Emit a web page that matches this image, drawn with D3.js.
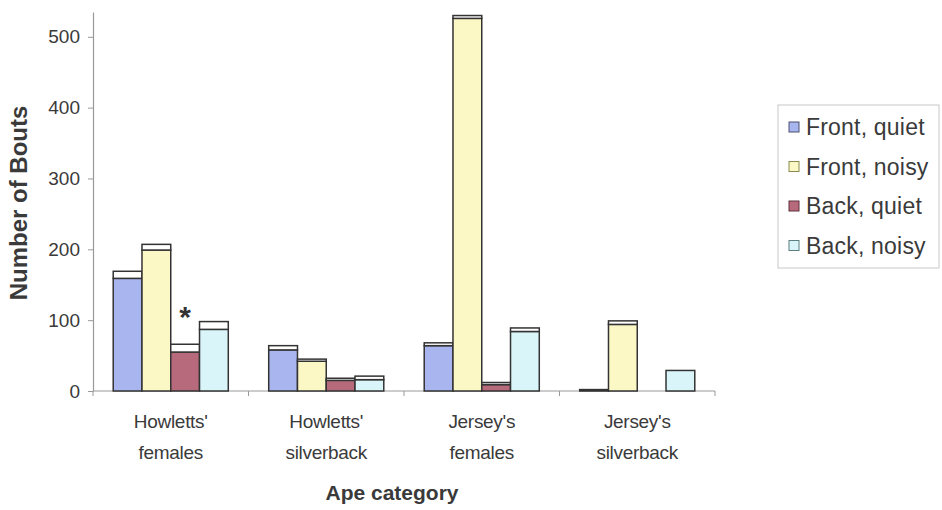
<!DOCTYPE html>
<html><head><meta charset="utf-8">
<script src="https://cdn.jsdelivr.net/npm/d3@7"></script>
<style>body{margin:0;background:#fff;} svg{display:block;font-family:Arial,"Liberation Sans",sans-serif;}</style>
</head><body><svg id="c" width="942" height="510"></svg>
<script>
// ---- data ----
const categories = ["Howletts' females", "Howletts' silverback", "Jersey's females", "Jersey's silverback"];
const categoryLines = [["Howletts'", "females"], ["Howletts'", "silverback"], ["Jersey's", "females"], ["Jersey's", "silverback"]];
const seriesNames = ["Front, quiet", "Front, noisy", "Back, quiet", "Back, noisy"];
// coloured (lower) part of each bar
const frontQuietBase = [159, 58, 64, 1];
const frontNoisyBase = [199, 42, 526, 94];
const backQuietBase  = [55, 15, 9, 0];
const backNoisyBase  = [87, 16, 84, 29];
// full bar height (white upper part on top)
const frontQuietTotal = [169, 64, 68, 2];
const frontNoisyTotal = [207, 45, 530, 99];
const backQuietTotal  = [66, 18, 12, 0];
const backNoisyTotal  = [98, 21, 89, 29];
const yTicks = [0, 100, 200, 300, 400, 500];
const annotations = [{ category: "Howletts' females", series: "Back, quiet", text: "*" }];

const baseValues = [frontQuietBase, frontNoisyBase, backQuietBase, backNoisyBase];
const totalValues = [frontQuietTotal, frontNoisyTotal, backQuietTotal, backNoisyTotal];
const colors = ["#a9b5ee", "#fbf8c6", "#b66a7b", "#d9f5fa"];
const legendStroke = ["#4a5070", "#8a8a50", "#603040", "#5a8080"];

// ---- layout ----
const svg = d3.select("#c");
const left = 93, right = 715, bottom = 391;
const y = d3.scaleLinear().domain([0, 535]).range([bottom, 12]);
const x0 = d3.scaleBand().domain(categories).range([left, right]).paddingInner(0.26).paddingOuter(0.13);
const x1 = d3.scaleBand().domain(seriesNames).range([0, x0.bandwidth()]);
const textCol = "#3a3a3a";

// y axis
const yAxis = svg.append("g").attr("transform", `translate(${left},0)`)
  .call(d3.axisLeft(y).tickValues(yTicks).tickSize(5).tickPadding(8).tickSizeOuter(0));
yAxis.select(".domain").attr("stroke", "#999").attr("stroke-width", 1.2);
yAxis.selectAll(".tick line").attr("stroke", "#999");
yAxis.selectAll(".tick text").attr("fill", textCol).style("font-size", "19px").style("font-family", "Arial, 'Liberation Sans', sans-serif");

// x axis line + category boundary ticks
const xBounds = d3.range(categories.length + 1).map(i => left + i * x0.step());
svg.append("line").attr("x1", left).attr("x2", right).attr("y1", bottom).attr("y2", bottom)
  .attr("stroke", "#999").attr("stroke-width", 1.2);
svg.selectAll(".xt").data(xBounds).join("line")
  .attr("x1", d => d).attr("x2", d => d).attr("y1", bottom).attr("y2", bottom + 5)
  .attr("stroke", "#999");

// bars
const groups = svg.selectAll(".grp").data(categories).join("g")
  .attr("transform", d => `translate(${x0(d)},0)`);
seriesNames.forEach((s, si) => {
  categories.forEach((c, ci) => {
    const b = baseValues[si][ci], t = totalValues[si][ci];
    if (t <= 0) return;
    const g = groups.filter(d => d === c);
    g.append("rect").attr("x", x1(s)).attr("width", x1.bandwidth())
      .attr("y", y(b)).attr("height", y(0) - y(b))
      .attr("fill", colors[si]).attr("stroke", "#333").attr("stroke-width", 1.5);
    if (t > b) {
      g.append("rect").attr("x", x1(s)).attr("width", x1.bandwidth())
        .attr("y", y(t)).attr("height", y(b) - y(t))
        .attr("fill", "#fff").attr("stroke", "#333").attr("stroke-width", 1.5);
    }
  });
});

// annotation
annotations.forEach(a => {
  const si = seriesNames.indexOf(a.series), ci = categories.indexOf(a.category);
  svg.append("text").attr("x", x0(a.category) + x1(a.series) + x1.bandwidth() / 2)
    .attr("y", y(totalValues[si][ci]) - 17).attr("text-anchor", "middle")
    .attr("fill", "#333").style("font-size", "30px").style("font-weight", "bold").text(a.text);
});

// category labels
categories.forEach((c, ci) => {
  const cx = x0(c) + x0.bandwidth() / 2;
  categoryLines[ci].forEach((ln, li) => {
    svg.append("text").attr("x", cx).attr("y", 428 + li * 31).attr("text-anchor", "middle")
      .attr("fill", textCol).style("font-size", "19px").style("letter-spacing", "-0.3px").text(ln);
  });
});

// axis titles
svg.append("text").attr("x", (left + right) / 2 - 12).attr("y", 500).attr("text-anchor", "middle")
  .attr("fill", textCol).style("font-size", "21px").style("font-weight", "bold").text("Ape category");
svg.append("text").attr("transform", `translate(27,203) rotate(-90)`).attr("text-anchor", "middle")
  .attr("fill", textCol).style("font-size", "24px").style("font-weight", "bold").text("Number of Bouts");

// legend
const lg = svg.append("g");
lg.append("rect").attr("x", 778).attr("y", 105).attr("width", 161).attr("height", 163)
  .attr("fill", "#fff").attr("stroke", "#c8c8c8").attr("stroke-width", 1);
seriesNames.forEach((s, i) => {
  const cy = 127 + i * 39.5;
  lg.append("rect").attr("x", 789).attr("y", cy - 5).attr("width", 10).attr("height", 10)
    .attr("fill", colors[i]).attr("stroke", legendStroke[i]).attr("stroke-width", 1);
  lg.append("text").attr("x", 806).attr("y", cy + 8).attr("fill", textCol)
    .style("font-size", "23px").style("letter-spacing", "0.2px").text(s);
});
</script></body></html>
